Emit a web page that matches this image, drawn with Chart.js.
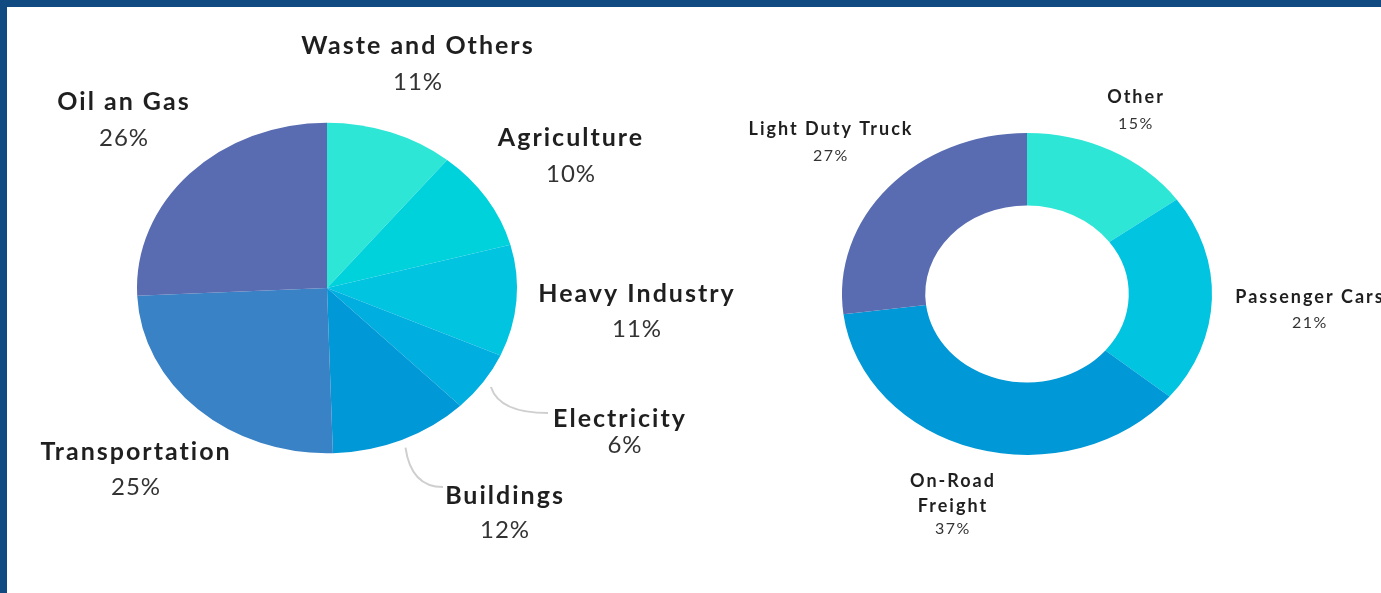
<!DOCTYPE html>
<html>
<head>
<meta charset="utf-8">
<script src="https://cdn.jsdelivr.net/npm/chart.js@4"></script>
<style>
    html, body { margin: 0; padding: 0; }
    body {
        width: 1381px; height: 593px; overflow: hidden; background: #fff;
        border-top: 7px solid #104a80; border-left: 7px solid #104a80;
        box-sizing: border-box; position: relative;
    }
    canvas { position: absolute; top: 0; }
    #sectorChart { left: 0; z-index: 2; }
    #transportChart { left: 693px; z-index: 1; }
</style>
</head>
<body>
<canvas id="sectorChart" width="760" height="586"></canvas>
<canvas id="transportChart" width="681" height="586"></canvas>
<script>
// emissions by sector
var sectorLabels = ['Waste and Others', 'Agriculture', 'Heavy Industry', 'Electricity', 'Buildings', 'Transportation', 'Oil an Gas'];
var sectorShares = [11, 10, 11, 6, 12, 25, 26];
var sectorColors = ['#2ee6d6', '#00d2dc', '#00c4e0', '#00aee0', '#0098d6', '#3a82c6', '#596cb2'];

// transportation breakdown
var transportLabels = [['Other'], ['Passenger Cars'], ['On-Road', 'Freight'], ['Light Duty Truck']];
var transportShares = [15, 21, 37, 27];
var transportColors = ['#2ee6d6', '#00c4e0', '#0098d6', '#596cb2'];

// label placement relative to the pie centre (layout only)
var sectorLabelPos = [
    { dx: 91, dy: -242, gap: 36 },
    { dx: 244, dy: -150, gap: 36 },
    { dx: 310, dy: 6, gap: 35 },
    { dx: 293, dy: 131, gap: 26, pctDx: 5, leader: { dx: -72, dy: -6 } },
    { dx: 178, dy: 208, gap: 34, leader: { dx: -62, dy: -9 } },
    { dx: -191, dy: 164, gap: 35 },
    { dx: -203, dy: -186, gap: 36 }
];
var transportLabelPos = [
    { dx: 109, dy: -197, gap: 27 },
    { dx: 283, dy: 3, gap: 26 },
    { dx: -74, dy: 187, gap: 23, lineGap: 25 },
    { dx: -196, dy: -165, gap: 27 }
];

var FONT = "Lato, 'Open Sans', sans-serif";

// squash the pie vertically so it looks like the original ellipse
var squash = {
    id: 'squash',
    beforeDatasetsDraw: function (chart, args, opts) {
        var arc = chart.getDatasetMeta(0).data[0];
        var ctx = chart.ctx;
        ctx.save();
        ctx.translate(arc.x, arc.y);
        ctx.scale(1, opts.ratio);
        ctx.translate(-arc.x, -arc.y);
    },
    afterDatasetsDraw: function (chart) {
        chart.ctx.restore();
    }
};

var sliceLabels = {
    id: 'sliceLabels',
    afterDraw: function (chart, args, opts) {
        var ctx = chart.ctx;
        var arcs = chart.getDatasetMeta(0).data;
        var values = chart.data.datasets[0].data;
        var ratio = chart.options.plugins.squash.ratio;
        ctx.save();
        ctx.textAlign = 'center';
        ctx.textBaseline = 'middle';
        arcs.forEach(function (arc, i) {
            var pos = opts.positions[i];
            var x = arc.x + pos.dx;
            var y = arc.y + pos.dy;

            if (pos.leader) {
                var mid = (arc.startAngle + arc.endAngle) / 2;
                var r = arc.outerRadius * 1.05;
                var sx = arc.x + Math.cos(mid) * r;
                var sy = arc.y + Math.sin(mid) * r * ratio;
                var ex = x + pos.leader.dx;
                var ey = y + pos.leader.dy;
                ctx.beginPath();
                ctx.moveTo(sx, sy);
                ctx.quadraticCurveTo(sx + (ex - sx) * 0.15, ey, ex, ey);
                ctx.strokeStyle = '#cfcfcf';
                ctx.lineWidth = 2;
                ctx.stroke();
            }

            var lines = [].concat(chart.data.labels[i]);
            ctx.fillStyle = '#1f1f1f';
            ctx.font = 'bold ' + opts.nameSize + 'px ' + FONT;
            ctx.letterSpacing = opts.nameSpacing;
            lines.forEach(function (line, j) {
                ctx.fillText(line, x, y + j * (pos.lineGap || 0));
            });
            var lastY = y + (lines.length - 1) * (pos.lineGap || 0);
            ctx.fillStyle = '#333';
            ctx.font = opts.pctSize + 'px ' + FONT;
            ctx.letterSpacing = opts.pctSpacing;
            ctx.fillText(values[i] + '%', x + (pos.pctDx || 0), lastY + pos.gap);
        });
        ctx.restore();
    }
};

function baseOptions(padding, positions, fonts) {
    return {
        responsive: false,
        animation: false,
        events: [],
        layout: { padding: padding },
        plugins: {
            legend: { display: false },
            tooltip: { enabled: false },
            squash: { ratio: 0.87 },
            sliceLabels: {
                positions: positions,
                nameSize: fonts[0], nameSpacing: fonts[1],
                pctSize: fonts[2], pctSpacing: fonts[3]
            }
        }
    };
}

new Chart(document.getElementById('sectorChart'), {
    type: 'pie',
    data: {
        labels: sectorLabels,
        datasets: [{ data: sectorShares, backgroundColor: sectorColors, borderWidth: 0 }]
    },
    options: baseOptions({ left: 130, right: 250, top: 91, bottom: 115 }, sectorLabelPos, [25, '2px', 24, '1px']),
    plugins: [squash, sliceLabels]
});

var transportOptions = baseOptions({ left: 142, right: 169, top: 102, bottom: 114 }, transportLabelPos, [18, '2px', 16, '1.5px']);
transportOptions.cutout = '55%';

new Chart(document.getElementById('transportChart'), {
    type: 'doughnut',
    data: {
        labels: transportLabels,
        datasets: [{ data: transportShares, backgroundColor: transportColors, borderWidth: 0 }]
    },
    options: transportOptions,
    plugins: [squash, sliceLabels]
});
</script>
</body>
</html>
